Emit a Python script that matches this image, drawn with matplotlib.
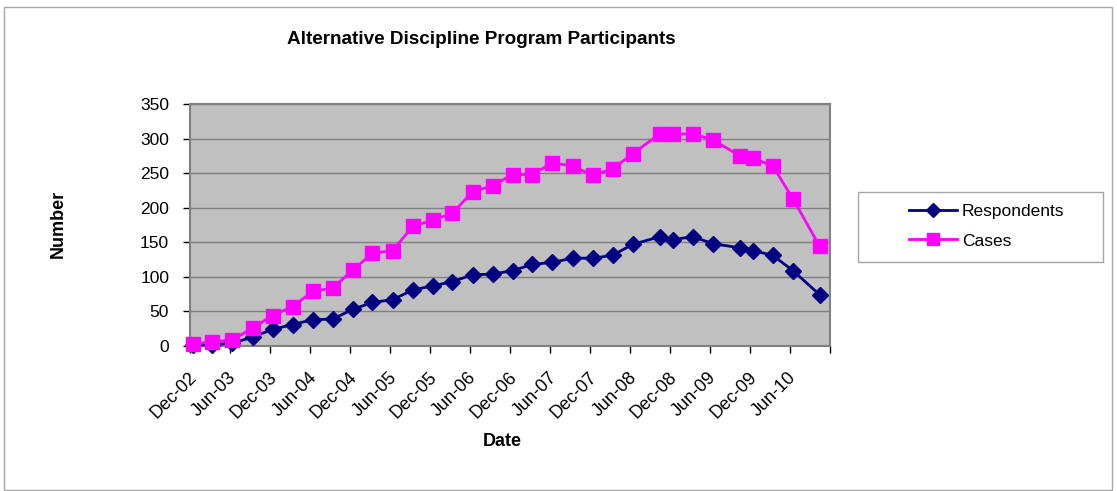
import matplotlib
matplotlib.use("Agg")
import matplotlib.pyplot as plt
from matplotlib.patches import Rectangle
from matplotlib.lines import Line2D
from matplotlib.transforms import ScaledTranslation
import datetime as dt

plt.rcParams['font.family'] = ['Liberation Sans', 'DejaVu Sans']

# ---- data ----
dates = ["2002-12-13", "2003-03-13", "2003-06-13", "2003-09-13", "2003-12-13",
         "2004-03-13", "2004-06-13", "2004-09-13", "2004-12-13", "2005-03-13",
         "2005-06-13", "2005-09-13", "2005-12-13", "2006-03-13", "2006-06-13",
         "2006-09-13", "2006-12-13", "2007-03-13", "2007-06-13", "2007-09-13",
         "2007-12-13", "2008-03-13", "2008-06-13", "2008-10-15", "2008-12-15",
         "2009-03-15", "2009-06-15", "2009-10-15", "2009-12-15", "2010-03-15",
         "2010-06-15", "2010-10-15"]
respondents = [1, 2, 4, 13, 24, 31, 38, 39, 53, 63, 67, 81, 87, 93, 103, 104,
               109, 118, 121, 127, 127, 131, 147, 158, 154, 158, 148, 142, 138,
               131, 109, 74]
cases = [3, 6, 9, 26, 44, 57, 79, 84, 110, 134, 138, 173, 182, 192, 223, 232,
         248, 248, 265, 260, 247, 256, 278, 307, 306, 307, 298, 275, 272, 260,
         213, 144]
tick_dates = ["2002-12-01", "2003-06-01", "2003-12-01", "2004-06-01", "2004-12-01",
              "2005-06-01", "2005-12-01", "2006-06-01", "2006-12-01", "2007-06-01",
              "2007-12-01", "2008-06-01", "2008-12-01", "2009-06-01", "2009-12-01",
              "2010-06-01", "2010-12-01"]
tick_labels = ["Dec-02", "Jun-03", "Dec-03", "Jun-04", "Dec-04", "Jun-05", "Dec-05",
               "Jun-06", "Dec-06", "Jun-07", "Dec-07", "Jun-08", "Dec-08", "Jun-09",
               "Dec-09", "Jun-10", ""]
y_ticks = [0, 50, 100, 150, 200, 250, 300, 350]

x = [dt.datetime.strptime(d, "%Y-%m-%d") for d in dates]
xt = [dt.datetime.strptime(d, "%Y-%m-%d") for d in tick_dates]

W, H = 1117, 491
fig = plt.figure(figsize=(W / 100, H / 100), dpi=100)
fig.patch.set_facecolor('white')

# outer frame
fig.patches.append(Rectangle((4 / W, 1 - 490 / H), 1108 / W, 483 / H,
                             transform=fig.transFigure, fill=False,
                             edgecolor='#a6a6a6', lw=1.0))

ax = fig.add_axes([190 / W, 1 - 346 / H, 640 / W, 242 / H])
ax.set_facecolor('#C0C0C0')

navy = '#000080'
magenta = '#FF00FF'
ax.plot(x, respondents, color=navy, lw=2, marker='D', markersize=8,
        markerfacecolor=navy, markeredgecolor=navy, zorder=3, clip_on=False)
ax.plot(x, cases, color=magenta, lw=2, marker='s', markersize=10,
        markerfacecolor=magenta, markeredgecolor=magenta, zorder=4, clip_on=False)

ax.set_xlim(xt[0], xt[-1])
ax.set_ylim(0, 350)
ax.set_xticks(xt)
ax.set_xticklabels(tick_labels, rotation=45, ha='right', va='center',
                   rotation_mode='anchor')
ax.set_yticks(y_ticks)
ax.yaxis.grid(True, color='#808080', lw=1)
ax.set_axisbelow(True)
for s in ax.spines.values():
    s.set_color('#808080')
    s.set_linewidth(1.5)
ax.tick_params(axis='both', colors='black', length=5, width=1, direction='out')
ax.tick_params(axis='y', pad=10, labelsize=12.5)
ax.tick_params(axis='x', pad=16, labelsize=13)
for t in ax.get_xticklines() + ax.get_yticklines():
    t.set_color('#808080')
shift = ScaledTranslation(4 / 100, 0, fig.dpi_scale_trans)
for lab in ax.get_xticklabels():
    lab.set_transform(lab.get_transform() + shift)

fig.text(481 / W, 1 - 40 / H, "Alternative Discipline Program Participants",
         ha='center', va='center', fontsize=13.6, fontweight='bold')
fig.text(502 / W, 1 - 442 / H, "Date", ha='center', va='center',
         fontsize=13, fontweight='bold')
fig.text(58 / W, 1 - 224 / H, "Number", ha='center', va='center',
         fontsize=13, fontweight='bold', rotation=90)

# legend box
fig.patches.append(Rectangle((858 / W, 1 - 262 / H), 245 / W, 70 / H,
                             transform=fig.transFigure, fill=False,
                             edgecolor='#a6a6a6', lw=1.0))
handles = [Line2D([], [], color=navy, lw=2, marker='D', markersize=7),
           Line2D([], [], color=magenta, lw=2, marker='s', markersize=8)]
fig.legend(handles, ["Respondents", "Cases"], loc='center left',
           bbox_to_anchor=(900 / W, 1 - 226 / H), frameon=False,
           fontsize=12.5, handlelength=2.8, handletextpad=0.25,
           labelspacing=0.85, borderpad=0)

fig.savefig("out.png", dpi=100, facecolor='white')
